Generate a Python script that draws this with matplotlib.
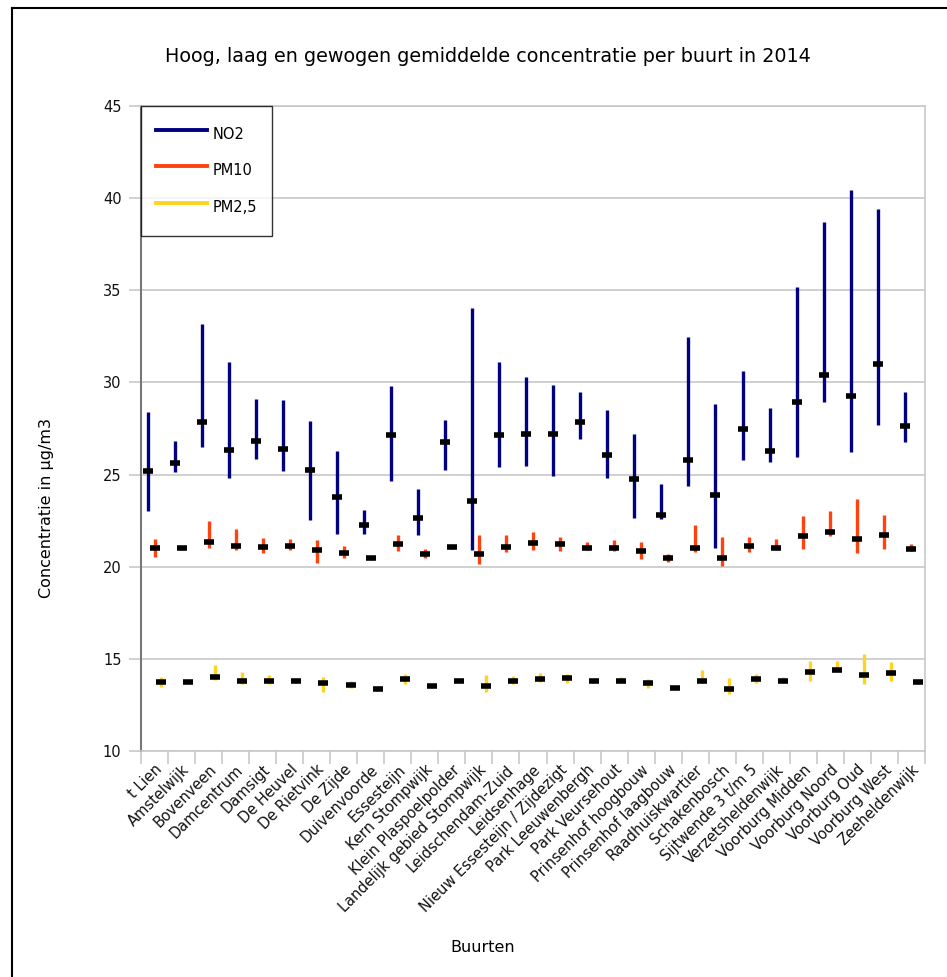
import matplotlib.pyplot as plt
import numpy as np
from matplotlib.lines import Line2D

buurten = ["t Lien", "Amstelwijk", "Bovenveen", "Damcentrum", "Damsigt",
           "De Heuvel", "De Rietvink", "De Zijde", "Duivenvoorde", "Essesteijn",
           "Kern Stompwijk", "Klein Plaspoelpolder", "Landelijk gebied Stompwijk",
           "Leidschendam-Zuid", "Leidsenhage", "Nieuw Essesteijn / Zijdezigt",
           "Park Leeuwenbergh", "Park Veursehout", "Prinsenhof hoogbouw",
           "Prinsenhof laagbouw", "Raadhuiskwartier", "Schakenbosch",
           "Sijtwende 3 t/m 5", "Verzetsheldenwijk", "Voorburg Midden",
           "Voorburg Noord", "Voorburg Oud", "Voorburg West", "Zeeheldenwijk"]

# NO2: hoog, laag, gewogen gemiddelde
no2_hoog = [28.38, 26.83, 33.18, 31.11, 29.08, 29.05, 27.93, 26.30, 23.10, 29.81,
            24.19, 27.98, 34.02, 31.11, 30.29, 29.86, 29.50, 28.49, 27.20, 24.51,
            32.44, 28.81, 30.64, 28.60, 35.17, 38.71, 40.45, 39.40, 29.46]
no2_laag = [23.00, 25.13, 26.48, 24.82, 25.85, 25.22, 22.53, 21.78, 21.78, 24.64,
            21.70, 25.27, 20.93, 25.43, 25.49, 24.91, 26.93, 24.82, 22.65, 22.60,
            24.37, 21.03, 25.81, 25.69, 25.98, 28.92, 26.25, 27.71, 26.75]
no2_gem = [25.22, 25.63, 27.84, 26.36, 26.81, 26.39, 25.25, 23.79, 22.29, 27.17,
           22.65, 26.79, 23.57, 27.15, 27.20, 27.19, 27.84, 26.05, 24.77, 22.83,
           25.80, 23.90, 27.49, 26.28, 28.94, 30.42, 29.26, 30.98, 27.66]

# PM10
pm10_hoog = [21.52, 21.14, 22.47, 22.05, 21.56, 21.52, 21.45, 21.11, 20.58, 21.72,
             20.98, 21.20, 21.72, 21.72, 21.89, 21.63, 21.36, 21.47, 21.34, 20.71,
             22.29, 21.60, 21.62, 21.52, 22.76, 23.01, 23.65, 22.78, 21.22]
pm10_laag = [20.53, 20.91, 21.02, 20.89, 20.76, 20.91, 20.22, 20.47, 20.34, 20.83,
             20.47, 20.98, 20.13, 20.78, 20.91, 20.85, 20.89, 20.85, 20.44, 20.27,
             20.78, 20.05, 20.82, 20.91, 20.98, 21.65, 20.76, 20.96, 20.83]
pm10_gem = [21.00, 21.00, 21.32, 21.11, 21.05, 21.13, 20.91, 20.73, 20.45, 21.25,
            20.71, 21.09, 20.71, 21.09, 21.27, 21.23, 21.02, 21.03, 20.87, 20.45,
            21.00, 20.45, 21.14, 21.03, 21.65, 21.87, 21.49, 21.71, 20.94]

# PM2,5
pm25_hoog = [14.04, 13.86, 14.67, 14.28, 14.11, 13.95, 14.00, 13.80, 13.46, 14.18,
             13.60, 13.91, 14.11, 14.09, 14.22, 14.18, 13.91, 14.00, 13.93, 13.48,
             14.40, 13.95, 14.18, 14.00, 14.86, 14.89, 15.25, 14.82, 13.82]
pm25_laag = [13.46, 13.64, 13.84, 13.66, 13.64, 13.71, 13.22, 13.41, 13.28, 13.66,
             13.41, 13.73, 13.19, 13.64, 13.77, 13.70, 13.68, 13.68, 13.41, 13.30,
             13.68, 13.10, 13.71, 13.70, 13.80, 14.31, 13.66, 13.79, 13.66]
pm25_gem = [13.75, 13.75, 14.04, 13.80, 13.80, 13.82, 13.71, 13.59, 13.37, 13.93,
            13.51, 13.82, 13.55, 13.80, 13.91, 13.97, 13.80, 13.80, 13.68, 13.41,
            13.80, 13.35, 13.88, 13.80, 14.28, 14.42, 14.11, 14.24, 13.75]

fig = plt.figure(figsize=(9.47, 9.77), dpi=100)
ax = fig.add_axes([141/947, 1 - 751/977, 784/947, 645/977])

x = np.arange(len(buurten))
series = [
    (no2_hoog, no2_laag, no2_gem, "#000080", -0.25, "NO2"),
    (pm10_hoog, pm10_laag, pm10_gem, "#ff420e", 0.0, "PM10"),
    (pm25_hoog, pm25_laag, pm25_gem, "#ffd320", 0.25, "PM2,5"),
]
handles = []
for hoog, laag, gem, kleur, off, naam in series:
    ax.vlines(x + off, laag, hoog, colors=kleur, linewidth=2.4, zorder=3)
    ax.plot(x + off, gem, linestyle="none", marker="_", markersize=7,
            markeredgewidth=4, color="black", zorder=4)
    handles.append(Line2D([0], [0], color=kleur, linewidth=2.8, label=naam))

ax.set_xlim(-0.5, len(buurten) - 0.5)
ax.set_ylim(10, 45)
ax.set_yticks(np.arange(10, 46, 5))
ax.yaxis.grid(True, color="#c8c8c8", linewidth=1.2)
ax.set_axisbelow(True)

# tick marks at category boundaries, labels at centres
ax.set_xticks(np.arange(-0.5, len(buurten), 1.0))
ax.set_xticklabels([])
ax.set_xticks(x, minor=True)
ax.set_xticklabels(buurten, minor=True, rotation=45, ha="right",
                   rotation_mode="anchor", fontsize=10.5, color="#111111")
ax.tick_params(axis="x", which="minor", length=0, pad=8)
ax.tick_params(axis="x", which="major", length=9, color="#c8c8c8", width=1.2)
ax.tick_params(axis="y", length=9, color="#c8c8c8", width=1.2,
               labelsize=10.5, labelcolor="#111111", pad=5)

for s in ["top", "right", "bottom"]:
    ax.spines[s].set_color("#c8c8c8")
    ax.spines[s].set_linewidth(1.2)
ax.spines["left"].set_color("#777777")
ax.spines["left"].set_linewidth(1.5)

fig.text(47/947, 1 - 508/977, "Concentratie in µg/m3", rotation=90,
         ha="center", va="center", fontsize=11.5)
fig.text(483/947, 1 - 948/977, "Buurten", ha="center", va="center", fontsize=11.5)
fig.text(488/947, 1 - 57/977, "Hoog, laag en gewogen gemiddelde concentratie per buurt in 2014",
         ha="center", va="center", fontsize=13.8)

leg = ax.legend(handles=handles, loc="upper left", bbox_to_anchor=(0.0, 1.0),
                frameon=True, fancybox=False, fontsize=10.5, handlelength=3.5,
                handleheight=2.6, labelspacing=0.56, borderpad=1.0,
                handletextpad=0.4, borderaxespad=0.0)
leg.get_frame().set_edgecolor("black")
leg.get_frame().set_linewidth(1.0)

# outer frame
fig.add_artist(Line2D([12/947, 1.0], [1 - 8/977, 1 - 8/977], color="black",
                      linewidth=1.5, transform=fig.transFigure))
fig.add_artist(Line2D([12/947, 12/947], [0.0, 1 - 8/977], color="black",
                      linewidth=1.5, transform=fig.transFigure))

fig.savefig("out.png", dpi=100)
